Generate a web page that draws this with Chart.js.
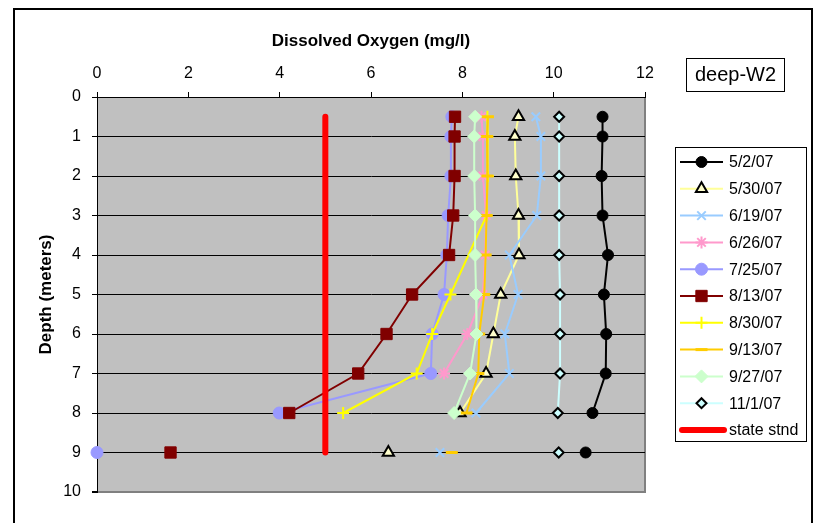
<!DOCTYPE html>
<html>
<head>
<meta charset="utf-8">
<script src="https://cdn.jsdelivr.net/npm/chart.js"></script>
<style>
  body { margin: 0; background: #fff; }
  canvas { display: block; }
</style>
</head>
<body>
<canvas id="doChart" width="821" height="523"></canvas>
<script>
/* depth of each reading (meters) */
const depths = [0.5, 1, 2, 3, 4, 5, 6, 7, 8, 9]

/* dissolved oxygen (mg/l) per sampling date, null = no reading */
const do0502 = [11.07, 11.07, 11.05, 11.07, 11.19, 11.10, 11.15, 11.14, 10.85, 10.70]
const do0530 = [9.23, 9.15, 9.17, 9.23, 9.24, 8.84, 8.68, 8.52, 7.95, 6.38]
const do0619 = [9.61, 9.72, 9.72, 9.63, 9.03, 9.22, 8.93, 9.03, 8.30, 7.51]
const do0626 = [8.42, 8.45, 8.45, 8.52, 8.50, 8.45, 8.11, 7.60, null, null]
const do0725 = [7.77, 7.75, 7.75, 7.69, 7.66, 7.60, 7.34, 7.31, 3.99, 0.0]
const do0813 = [7.84, 7.83, 7.83, 7.80, 7.71, 6.90, 6.34, 5.72, 4.21, 1.61]
const do0830 = [8.55, 8.55, 8.56, 8.53, null, 7.74, 7.34, 7.00, 5.39, null]
const do0913 = [8.56, 8.54, 8.55, 8.53, 8.51, 8.48, 8.37, 8.35, 8.09, 7.77]
const do0927 = [8.28, 8.26, 8.26, 8.28, 8.28, 8.30, 8.31, 8.17, 7.82, null]
const do1101 = [10.12, 10.12, 10.12, 10.12, 10.12, 10.14, 10.14, 10.14, 10.09, 10.11]

const dateLabels = ['5/2/07', '5/30/07', '6/19/07', '6/26/07', '7/25/07', '8/13/07', '8/30/07', '9/13/07', '9/27/07', '11/1/07']
const seriesValues = [do0502, do0530, do0619, do0626, do0725, do0813, do0830, do0913, do0927, do1101]

/* state standard line */
const stateLabel = 'state stnd'
const stateValue = [5, 5]
const stateDepth = [0.5, 9]

const xTicks = [0, 2, 4, 6, 8, 10, 12]
const yTicks = [0, 1, 2, 3, 4, 5, 6, 7, 8, 9, 10]

/* look of each series, Excel style */
const looks = [
  { line: '#000000', style: 'circle', r: 5.5, fill: '#000000', edge: '#000000', bw: 1 },
  { line: '#ffff99', style: 'triangle', r: 6.5, fill: '#ffffcc', edge: '#000000', bw: 2 },
  { line: '#99ccff', style: 'crossRot', r: 6, fill: '#99ccff', edge: '#99ccff', bw: 2 },
  { line: '#ff99cc', style: 'star', r: 6, fill: '#ff99cc', edge: '#ff99cc', bw: 2 },
  { line: '#9999ff', style: 'circle', r: 6, fill: '#9999ff', edge: '#9999ff', bw: 1 },
  { line: '#800000', style: 'rect', r: 8, fill: '#800000', edge: '#800000', bw: 1 },
  { line: '#ffff00', style: 'cross', r: 6, fill: '#ffff00', edge: '#ffff00', bw: 2 },
  { line: '#ffcc00', style: 'line', r: 6, fill: '#ffcc00', edge: '#ffcc00', bw: 3 },
  { line: '#ccffcc', style: 'rectRot', r: 6.5, fill: '#ccffcc', edge: '#ccffcc', bw: 1 },
  { line: '#ccffff', style: 'rectRot', r: 5, fill: '#ccffff', edge: '#000000', bw: 2 }
]

const datasets = seriesValues.map((vals, i) => {
  const lk = looks[i]
  return {
    label: dateLabels[i],
    data: depths.map((d, j) => ({ x: vals[j], y: d })).filter(p => p.x !== null),
    showLine: true,
    spanGaps: true,
    borderColor: lk.line,
    borderWidth: 2,
    pointStyle: lk.style,
    pointRadius: lk.r,
    pointBackgroundColor: lk.fill,
    pointBorderColor: lk.edge,
    pointBorderWidth: lk.bw,
    clip: false,
    order: -i,
    /* the 9 m reading is not joined to the rest */
    segment: { borderColor: c => c.p1.parsed.y > 8.5 ? 'rgba(0,0,0,0)' : undefined }
  }
})

datasets.push({
  label: stateLabel,
  data: stateValue.map((v, j) => ({ x: v, y: stateDepth[j] })),
  showLine: true,
  borderColor: '#ff0000',
  borderWidth: 6,
  borderCapStyle: 'round',
  pointRadius: 0,
  clip: false,
  order: -20
})

function drawLegend(chart) {
  const ctx = chart.ctx
  ctx.save()
  ctx.fillStyle = '#fff'
  ctx.fillRect(675.5, 147.5, 131, 294)
  ctx.strokeStyle = '#000'
  ctx.lineWidth = 1
  ctx.strokeRect(675.5, 147.5, 131, 294)
  ctx.font = '16px "Liberation Sans", Arial, sans-serif'
  ctx.textBaseline = 'middle'
  ctx.textAlign = 'left'
  const items = dateLabels.concat([stateLabel])
  items.forEach((lab, i) => {
    const y = 162 + i * 26.8
    const ds = datasets[i]
    ctx.beginPath()
    ctx.strokeStyle = ds.borderColor
    ctx.lineWidth = ds.borderWidth
    ctx.lineCap = i === 10 ? 'round' : 'butt'
    ctx.moveTo(i === 10 ? 682 : 680, y)
    ctx.lineTo(i === 10 ? 724 : 723, y)
    ctx.stroke()
    if (i < 10) {
      const lk = looks[i]
      ctx.fillStyle = lk.fill
      ctx.strokeStyle = lk.edge
      ctx.lineWidth = lk.bw
      ctx.lineCap = 'butt'
      Chart.helpers.drawPoint(ctx, { pointStyle: lk.style, radius: lk.r, rotation: 0, borderWidth: lk.bw }, 701.5, y)
    }
    ctx.fillStyle = '#000'
    ctx.fillText(lab, 729, y + 1)
  })
  /* station name box */
  ctx.lineCap = 'butt'
  ctx.strokeStyle = '#000'
  ctx.lineWidth = 1
  ctx.fillStyle = '#fff'
  ctx.fillRect(686.5, 58.5, 98, 33)
  ctx.strokeRect(686.5, 58.5, 98, 33)
  ctx.fillStyle = '#000'
  ctx.font = '20px "Liberation Sans", Arial, sans-serif'
  ctx.textAlign = 'center'
  ctx.fillText('deep-W2', 735.5, 75.5)
  ctx.restore()
}

const framePlugin = {
  id: 'framePlugin',
  beforeDraw(chart) {
    const ctx = chart.ctx
    const a = chart.chartArea
    ctx.save()
    ctx.fillStyle = '#fff'
    ctx.fillRect(0, 0, chart.width, chart.height)
    ctx.fillStyle = '#c0c0c0'
    ctx.fillRect(a.left, a.top, a.right - a.left, a.bottom - a.top)
    ctx.strokeStyle = '#808080'
    ctx.lineWidth = 2
    ctx.beginPath()
    ctx.moveTo(a.right, a.top)
    ctx.lineTo(a.right, a.bottom + 1)
    ctx.stroke()
    ctx.strokeStyle = '#000'
    ctx.lineWidth = 2
    ctx.strokeRect(14, 9, 798, 540)
    ctx.restore()
  },
  afterDraw(chart) {
    drawLegend(chart)
  }
}

const tickFont = { family: '"Liberation Sans", Arial, sans-serif', size: 16 }
const titleFont = { family: '"Liberation Sans", Arial, sans-serif', size: 17, weight: 'bold' }

const config = {
  type: 'scatter',
  data: { datasets: datasets },
  options: {
    responsive: false,
    animation: false,
    events: [],
    layout: { padding: { left: 0, top: 0, right: 176, bottom: 31 } },
    plugins: { legend: { display: false }, tooltip: { enabled: false } },
    scales: {
      x: {
        type: 'linear',
        position: 'top',
        min: 0,
        max: 12,
        afterBuildTicks: s => { s.ticks = xTicks.map(v => ({ value: v })) },
        afterFit: s => { s.height = 97 },
        ticks: { font: tickFont, color: '#000', padding: 9, maxRotation: 0 },
        grid: { drawOnChartArea: false, tickLength: 5, tickColor: '#000' },
        border: { color: '#000', width: 1 },
        title: { display: true, text: 'Dissolved Oxygen (mg/l)', font: titleFont, color: '#000', padding: { top: 31, bottom: 0 } }
      },
      y: {
        type: 'linear',
        reverse: true,
        min: 0,
        max: 10,
        afterBuildTicks: s => { s.ticks = yTicks.map(v => ({ value: v })) },
        afterFit: s => { s.width = 97 },
        ticks: { font: tickFont, color: '#000', padding: 11 },
        grid: {
          color: c => c.index === 10 ? '#808080' : '#000',
          lineWidth: c => c.index === 10 ? 2 : 1,
          tickLength: 5,
          tickColor: '#000'
        },
        border: { color: '#000', width: 1 },
        title: { display: true, text: 'Depth (meters)', font: titleFont, color: '#000', padding: { top: 36, bottom: 0 } }
      }
    }
  },
  plugins: [framePlugin]
}

const doChart = new Chart(document.getElementById('doChart'), config)
</script>
</body>
</html>
